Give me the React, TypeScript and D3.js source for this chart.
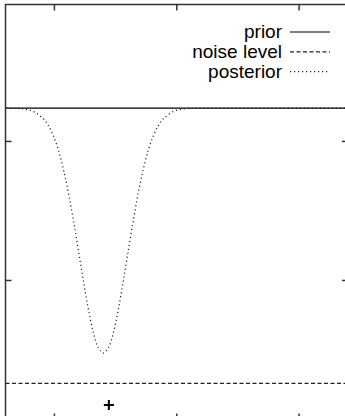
import React from 'react';
import * as d3 from 'd3';

const xTicks = [0, 1, 2];
const yTicks = [1, 2];
const priorLevel = 2.24;
const noiseLevel = 0.26;
const observationX = [0.445];
const observationY = [0.105];
const posteriorX = [-0.396, -0.335, -0.253, -0.171, -0.09, -0.049, -0.008, 0.033, 0.073, 0.114, 0.155, 0.196, 0.237, 0.278, 0.318, 0.359, 0.4, 0.441, 0.482, 0.522, 0.563, 0.604, 0.645, 0.686, 0.727, 0.767, 0.808, 0.849, 0.89, 0.971, 1.053, 1.135, 1.216, 2.4];
const posteriorY = [2.24, 2.239, 2.234, 2.215, 2.163, 2.113, 2.039, 1.937, 1.801, 1.632, 1.433, 1.216, 0.995, 0.791, 0.625, 0.516, 0.478, 0.516, 0.625, 0.791, 0.995, 1.216, 1.433, 1.632, 1.801, 1.937, 2.039, 2.113, 2.163, 2.215, 2.234, 2.239, 2.24, 2.24];
const legendLabels = ['prior', 'noise level', 'posterior'];

export default function App() {
  const W = 345;
  const H = 416;
  const x = d3.scaleLinear().domain([-0.4, 2.4]).range([5.5, 348]);
  const y = d3.scaleLinear().domain([0, 2.985]).range([419.5, 4.5]);
  const [x0, x1] = x.range();
  const [yb, yt] = y.range();
  const line = d3
    .line<number>()
    .x((_, i) => x(posteriorX[i]))
    .y((d) => y(d))
    .curve(d3.curveCatmullRom);
  const dashes = ['none', '4,2.5', '1.2,2.8'];
  const frame = '#333';
  const font = '"Liberation Sans", Arial, Helvetica, sans-serif';
  return (
    <svg
      width={W}
      height={H}
      style={{ position: 'absolute', left: 0, top: 0, background: '#fff' }}
    >
      <defs>
        <clipPath id="plot">
          <rect x={x0} y={yt} width={x1 - x0} height={yb - yt} />
        </clipPath>
      </defs>
      <rect x={0} y={0} width={W} height={H} fill="#fff" />
      <g clipPath="url(#plot)">
        <line x1={x0} x2={x1} y1={y(priorLevel)} y2={y(priorLevel)} stroke="#000" strokeWidth={1.2} />
        <line
          x1={x0}
          x2={x1}
          y1={y(noiseLevel)}
          y2={y(noiseLevel)}
          stroke="#222"
          strokeWidth={1.2}
          strokeDasharray={dashes[1]}
        />
        <path d={line(posteriorY) || ''} fill="none" stroke="#222" strokeWidth={1.2} strokeDasharray={dashes[2]} />
        {observationX.map((ox, i) => (
          <g key={i} transform={`translate(${x(ox)},${y(observationY[i])})`} stroke="#000" strokeWidth={2}>
            <line x1={-5} x2={5} y1={0} y2={0} />
            <line x1={0} x2={0} y1={-5} y2={5} />
          </g>
        ))}
      </g>
      {xTicks.map((t) => (
        <g key={'x' + t} stroke={frame} strokeWidth={1.5}>
          <line x1={x(t)} x2={x(t)} y1={yt} y2={yt + 6} />
          <line x1={x(t)} x2={x(t)} y1={yb} y2={yb - 6} />
        </g>
      ))}
      {yTicks.map((t) => (
        <g key={'y' + t} stroke={frame} strokeWidth={1.5}>
          <line x1={x0} x2={x0 + 6} y1={y(t)} y2={y(t)} />
          <line x1={x1} x2={x1 - 6} y1={y(t)} y2={y(t)} />
        </g>
      ))}
      <rect x={x0} y={yt} width={x1 - x0} height={yb - yt} fill="none" stroke={frame} strokeWidth={1.5} />
      {legendLabels.map((lab, i) => {
        const by = 38 + i * 19.8;
        return (
          <g key={lab}>
            <text x={282} y={by} textAnchor="end" fontFamily={font} fontSize={19} fill="#000">
              {lab}
            </text>
            <line
              x1={290}
              x2={330}
              y1={by - 6}
              y2={by - 6}
              stroke={i === 0 ? '#000' : '#222'}
              strokeWidth={1.2}
              strokeDasharray={dashes[i]}
            />
          </g>
        );
      })}
    </svg>
  );
}
